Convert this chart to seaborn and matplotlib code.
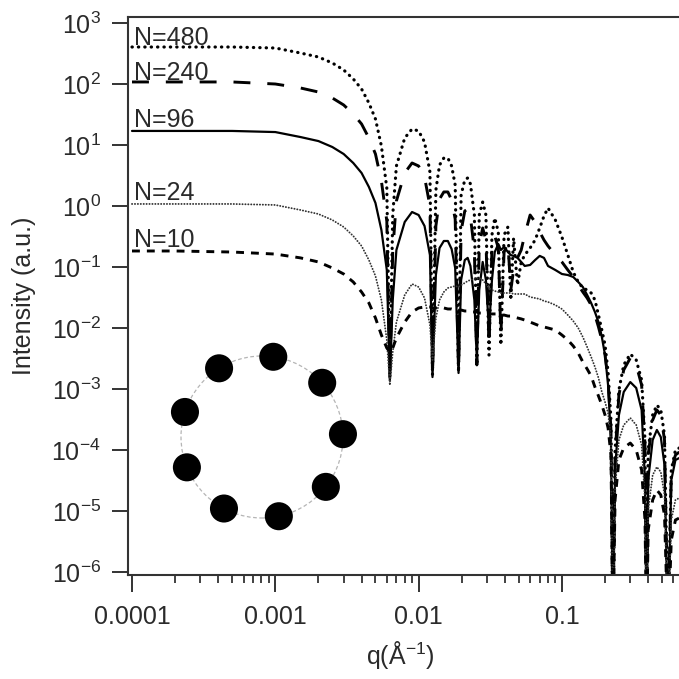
import numpy as np
import pandas as pd
import matplotlib
matplotlib.use("Agg")
import matplotlib.pyplot as plt
import seaborn as sns
from matplotlib.ticker import LogLocator, NullLocator, NullFormatter, FixedLocator

# ---------------- data ----------------
q = [1e-4, 2e-4, 5e-4, 1e-3, 1.5e-3, 2e-3, 2.5e-3, 3e-3, 3.5e-3, 4e-3,
     4.5e-3, 5e-3, 5.5e-3, 6e-3, 6.3e-3, 6.6e-3, 7e-3, 8e-3, 9e-3, 0.01,
     0.011, 0.012, 0.0125, 0.0132, 0.014, 0.015, 0.016, 0.017, 0.018, 0.019,
     0.0198, 0.021, 0.022, 0.023, 0.0245, 0.0255, 0.0265, 0.028, 0.0295, 0.031,
     0.0325, 0.034, 0.036, 0.0375, 0.0395, 0.042, 0.044, 0.046, 0.049, 0.052,
     0.055, 0.06, 0.065, 0.07, 0.075, 0.08, 0.09, 0.1, 0.11, 0.12,
     0.13, 0.14, 0.15, 0.16, 0.17, 0.18, 0.19, 0.2, 0.21, 0.22,
     0.227, 0.235, 0.25, 0.27, 0.3, 0.33, 0.36, 0.38, 0.39, 0.4,
     0.43, 0.46, 0.49, 0.52, 0.55, 0.58, 0.62, 0.66]

I_480 = [404, 404, 404, 389, 322, 277, 221, 170, 121, 82.8,
         48.8, 26.7, 9.63, 1.97, 1.52e-3, 0.712, 4.53, 13.0, 18.3, 17.0,
         11.2, 3.61, 1.70e-3, 1.83, 4.70, 6.12, 6.12, 4.53, 2.21, 1.90e-3,
         1.52, 2.67, 2.88, 2.30, 0.712, 2.48e-3, 0.712, 1.16, 0.712, 3.61e-3,
         0.335, 0.636, 0.375, 5.27e-3, 0.335, 0.453, 0.0288, 0.299, 0.0507, 0.121,
         0.157, 0.205, 0.277, 0.436, 0.686, 0.927, 0.590, 0.310, 0.157, 0.0828,
         0.0568, 0.0453, 0.0420, 0.0375, 0.0288, 0.0163, 9.27e-3, 5.27e-3, 1.90e-3, 3.10e-4,
         1e-7, 1.00e-4, 9.63e-4, 2.48e-3, 3.75e-3, 2.99e-3, 1.41e-3, 1.46e-4, 1e-7, 1.00e-4,
         3.75e-4, 5.47e-4, 4.53e-4, 1.76e-4, 1e-7, 4.70e-5, 1.00e-4, 1.08e-4]

I_240 = [108, 108, 108, 100, 86.0, 73.9, 59.0, 45.3, 32.2, 22.1,
         13.0, 7.12, 2.57, 0.568, 1.52e-3, 0.183, 1.21, 3.48, 5.07, 4.53,
         2.99, 1.00, 1.63e-3, 0.470, 1.30, 1.70, 1.70, 1.25, 0.612, 1.90e-3,
         0.389, 0.828, 0.893, 0.660, 0.190, 2.48e-3, 0.230, 0.436, 0.277, 5.27e-3,
         0.190, 0.322, 0.205, 7.68e-3, 0.176, 0.248, 0.0420, 0.0893, 0.141, 0.190,
         0.335, 0.712, 0.547, 0.375, 0.277, 0.221, 0.157, 0.121, 0.0893, 0.0686,
         0.0507, 0.0389, 0.0310, 0.0238, 0.0163, 0.0104, 6.36e-3, 3.61e-3, 1.41e-3, 2.13e-4,
         1e-7, 8.28e-5, 7.97e-4, 2.05e-3, 3.22e-3, 2.48e-3, 1.16e-3, 1.21e-4, 1e-7, 8.28e-5,
         3.10e-4, 4.53e-4, 3.75e-4, 1.46e-4, 1e-7, 4.70e-5, 8.28e-5, 9.27e-5]

I_96 = [17.0, 17.0, 17.0, 16.3, 13.5, 11.6, 9.27, 7.12, 5.07, 3.48,
        2.05, 1.12, 0.404, 0.0893, 1.41e-3, 0.0288, 0.190, 0.547, 0.797, 0.712,
        0.470, 0.157, 1.57e-3, 0.0739, 0.205, 0.267, 0.267, 0.197, 0.0963, 1.83e-3,
        0.0612, 0.130, 0.141, 0.104, 0.0288, 2.99e-3, 0.0420, 0.121, 0.0612, 9.27e-3,
        0.0612, 0.176, 0.238, 0.190, 0.213, 0.176, 0.157, 0.152, 0.141, 0.121,
        0.104, 0.108, 0.130, 0.152, 0.141, 0.104, 0.0893, 0.0768, 0.0739, 0.0686,
        0.0568, 0.0470, 0.0348, 0.0257, 0.0183, 0.0125, 7.12e-3, 3.61e-3, 1.16e-3, 1.46e-4,
        1e-7, 4.70e-5, 3.75e-4, 8.93e-4, 1.30e-3, 1.04e-3, 4.53e-4, 3.22e-5, 1e-7, 3.22e-5,
        1.46e-4, 2.13e-4, 1.63e-4, 5.68e-5, 1e-7, 3.22e-5, 6.86e-5, 7.39e-5]

I_24 = [1.08, 1.08, 1.08, 1.04, 0.860, 0.739, 0.590, 0.453, 0.322, 0.221,
        0.130, 0.0712, 0.0288, 6.36e-3, 1.16e-3, 4.04e-3, 0.0125, 0.0348, 0.0527, 0.0470,
        0.0310, 0.0112, 2.99e-3, 0.0146, 0.0288, 0.0389, 0.0453, 0.0470, 0.0488, 0.0470,
        0.0507, 0.0547, 0.0590, 0.0612, 0.0636, 0.0660, 0.0660, 0.0612, 0.0527, 0.0453,
        0.0420, 0.0404, 0.0389, 0.0375, 0.0375, 0.0375, 0.0375, 0.0361, 0.0361, 0.0361,
        0.0361, 0.0322, 0.0310, 0.0299, 0.0277, 0.0267, 0.0238, 0.0205, 0.0163, 0.0130,
        0.0100, 7.12e-3, 4.88e-3, 3.35e-3, 2.30e-3, 1.52e-3, 8.93e-4, 6.12e-4, 4.04e-4, 1.46e-4,
        1e-7, 2.21e-5, 1.46e-4, 2.57e-4, 3.35e-4, 2.57e-4, 1.21e-4, 1.52e-5, 1e-7, 1.04e-5,
        3.89e-5, 5.27e-5, 4.36e-5, 1.83e-5, 1e-7, 7.12e-6, 1.52e-5, 1.63e-5]

I_10 = [0.183, 0.183, 0.176, 0.163, 0.141, 0.121, 0.0963, 0.0768, 0.0568, 0.0389,
        0.0257, 0.0146, 7.68e-3, 4.70e-3, 4.04e-3, 4.70e-3, 6.86e-3, 0.0125, 0.0183, 0.0213,
        0.0221, 0.0221, 0.0213, 0.0213, 0.0213, 0.0213, 0.0205, 0.0205, 0.0197, 0.0197,
        0.0197, 0.0190, 0.0190, 0.0183, 0.0183, 0.0183, 0.0176, 0.0176, 0.0176, 0.0170,
        0.0170, 0.0170, 0.0170, 0.0163, 0.0163, 0.0157, 0.0157, 0.0152, 0.0146, 0.0141,
        0.0135, 0.0125, 0.0116, 0.0108, 0.0104, 0.0100, 9.27e-3, 7.68e-3, 6.36e-3, 5.07e-3,
        3.89e-3, 2.77e-3, 2.13e-3, 1.63e-3, 1.08e-3, 7.68e-4, 5.47e-4, 3.75e-4, 2.30e-4, 8.28e-5,
        1e-7, 1.52e-5, 6.86e-5, 1.08e-4, 1.30e-4, 1.00e-4, 4.70e-5, 7.12e-6, 1e-7, 4.88e-6,
        1.52e-5, 2.21e-5, 1.83e-5, 8.60e-6, 1e-7, 3.35e-6, 7.12e-6, 7.68e-6]

series_labels = ["N=480", "N=240", "N=96", "N=24", "N=10"]
series_values = [I_480, I_240, I_96, I_24, I_10]

x_ticks = [1e-4, 1e-3, 1e-2, 1e-1]
x_tick_labels = ["0.0001", "0.001", "0.01", "0.1"]
y_exponents = [-6, -5, -4, -3, -2, -1, 0, 1, 2, 3]

# inset: ring of particles (angular positions, degrees)
ring_angles_deg = [82, 42, 2, -38, -78, -118, -158, 162, 122]

# ---------------- styling ----------------
sns.set_theme(style="ticks")
plt.rcParams["font.family"] = ["Liberation Sans", "DejaVu Sans"]
plt.rcParams["mathtext.fontset"] = "custom"
plt.rcParams["mathtext.rm"] = "Liberation Sans"
plt.rcParams["mathtext.it"] = "Liberation Sans:italic"
plt.rcParams["mathtext.bf"] = "Liberation Sans:bold"

TXT = "#2a2a2a"
W, H = 679, 679

df = pd.DataFrame({
    "q": np.tile(q, len(series_labels)),
    "I": np.concatenate([np.asarray(v, dtype=float) for v in series_values]),
    "N": np.repeat(series_labels, len(q)),
})

styles = {
    "N=480": dict(color="black", lw=2.3, ls=(0, (0.1, 1.9)), dash_capstyle="round"),
    "N=240": dict(color="black", lw=2.1, ls=(0, (5.8, 5.8)), dash_capstyle="butt"),
    "N=96":  dict(color="black", lw=1.6, ls="-"),
    "N=24":  dict(color="#333333", lw=1.35, ls=(0, (0.1, 1.45)), dash_capstyle="round"),
    "N=10":  dict(color="black", lw=2.1, ls=(0, (2.7, 2.4)), dash_capstyle="butt"),
}

fig = plt.figure(figsize=(W / 100, H / 100), dpi=100)
ax = fig.add_axes([128 / W, (H - 575) / H, (W - 128) / W, 558 / H])
ax.set_xscale("log")
ax.set_yscale("log")

for lab in series_labels:
    sub = df[df["N"] == lab]
    sns.lineplot(data=sub, x="q", y="I", ax=ax, estimator=None, sort=False,
                 legend=False, **styles[lab])

ax.set_xlim(10 ** (-4 - 4 / 143.3), 10 ** (-4 + 547 / 143.3))
ax.set_ylim(10 ** (3 - 558 / 61 + 6 / 61), 10 ** (3 + 6 / 61))

# ticks
ax.xaxis.set_major_locator(FixedLocator(x_ticks))
ax.set_xticklabels(x_tick_labels)
ax.xaxis.set_minor_locator(LogLocator(base=10, subs=np.arange(2, 10), numticks=20))
ax.xaxis.set_minor_formatter(NullFormatter())
ax.yaxis.set_major_locator(FixedLocator([10.0 ** e for e in y_exponents]))
ax.set_yticklabels([r"$\mathdefault{10^{%d}}$" % e for e in y_exponents])
ax.yaxis.set_minor_locator(NullLocator())

ax.tick_params(axis="x", which="major", direction="out", length=12.2, width=1.4,
               pad=9.4, labelsize=18, colors="#333333", labelcolor=TXT)
ax.tick_params(axis="x", which="minor", direction="out", length=5.6, width=1.3,
               colors="#333333")
ax.tick_params(axis="y", which="major", direction="out", length=11.5, width=1.4,
               pad=8.0, labelsize=18, colors="#333333", labelcolor=TXT)

for side in ["left", "bottom", "top"]:
    ax.spines[side].set_linewidth(1.5)
    ax.spines[side].set_color("#333333")
ax.spines["right"].set_visible(False)
ax.grid(False)

ax.set_xlabel("")
ax.set_ylabel("")
fig.text(24 / W, 1 - 296 / H, "Intensity (a.u.)", rotation=90, ha="center",
         va="center", fontsize=18, color=TXT)
fig.text(400 / W, 1 - 655 / H, "q(Å$^{\\mathdefault{-1}}$)", ha="center",
         va="center", fontsize=18, color=TXT)

# curve labels
label_base = {"N=480": 45, "N=240": 80, "N=96": 127, "N=24": 200, "N=10": 247}
for lab in series_labels:
    ax.text((134 - 128) / 551, (575 - label_base[lab]) / 558, lab,
            transform=ax.transAxes, ha="left", va="baseline", fontsize=18,
            color=TXT)

# inset ring schematic
ax_in = fig.add_axes([(262 - 110) / W, (H - 547) / H, 220 / W, 220 / H])
ax_in.set_xlim(-110 / 81, 110 / 81)
ax_in.set_ylim(-110 / 81, 110 / 81)
ax_in.set_aspect("equal")
ax_in.axis("off")
ring = plt.Circle((0, 0), 1.0, fill=False, ls=(0, (3, 2)), lw=0.9, ec="#b5b5b5")
ax_in.add_patch(ring)
ang = np.deg2rad(ring_angles_deg)
sns.scatterplot(x=np.cos(ang), y=np.sin(ang), ax=ax_in, s=408, color="black",
                edgecolor="none", legend=False)

fig.savefig("out.png", dpi=100)
